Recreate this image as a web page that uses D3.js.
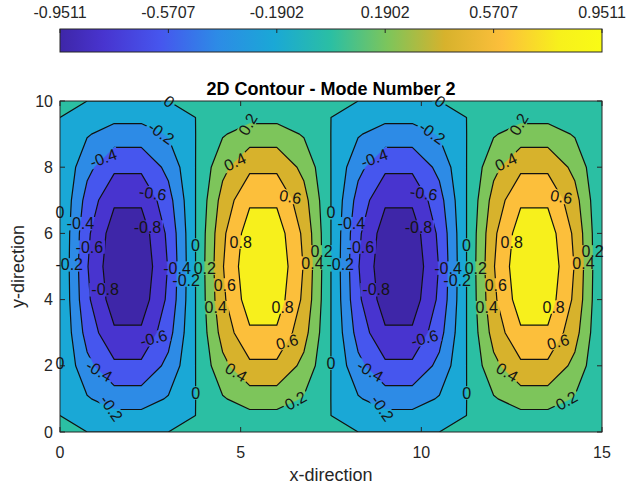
<!DOCTYPE html>
<html>
<head>
<meta charset="utf-8">
<script src="https://cdn.jsdelivr.net/npm/d3@7"></script>
<style>
  html, body { margin: 0; padding: 0; background: #ffffff; }
  svg { display: block; font-family: "Liberation Sans", Arial, Helvetica, sans-serif; }
</style>
</head>
<body>
<svg id="chart" width="626" height="497"></svg>
<script>
// ---- grid of the mode shape ----
const xGrid = [0, 0.75, 1.5, 2.25, 3, 3.75, 4.5, 5.25, 6, 6.75, 7.5, 8.25, 9, 9.75, 10.5, 11.25, 12, 12.75, 13.5, 14.25, 15];
const yGrid = [0, 1, 2, 3, 4, 5, 6, 7, 8, 9, 10];

// displacement, one row per yGrid entry (y = 0 first)
const zRows = [
  [0.001, 0, 0, 0, 0, 0.001, 0, 0, 0, 0, 0.001, 0, 0, 0, 0, 0.001, 0, 0, 0, 0, 0],
  [-0.001, -0.1816, -0.2939, -0.2939, -0.1816, -0.001, 0.1816, 0.2939, 0.2939, 0.1816, -0.001, -0.1816, -0.2939, -0.2939, -0.1816, -0.001, 0.1816, 0.2939, 0.2939, 0.1816, 0],
  [-0.001, -0.3455, -0.5590, -0.5590, -0.3455, -0.001, 0.3455, 0.5590, 0.5590, 0.3455, -0.001, -0.3455, -0.5590, -0.5590, -0.3455, -0.001, 0.3455, 0.5590, 0.5590, 0.3455, 0],
  [-0.001, -0.4755, -0.7694, -0.7694, -0.4755, -0.001, 0.4755, 0.7694, 0.7694, 0.4755, -0.001, -0.4755, -0.7694, -0.7694, -0.4755, -0.001, 0.4755, 0.7694, 0.7694, 0.4755, 0],
  [-0.001, -0.5590, -0.9045, -0.9045, -0.5590, -0.001, 0.5590, 0.9045, 0.9045, 0.5590, -0.001, -0.5590, -0.9045, -0.9045, -0.5590, -0.001, 0.5590, 0.9045, 0.9045, 0.5590, 0],
  [-0.001, -0.5878, -0.9511, -0.9511, -0.5878, -0.001, 0.5878, 0.9511, 0.9511, 0.5878, -0.001, -0.5878, -0.9511, -0.9511, -0.5878, -0.001, 0.5878, 0.9511, 0.9511, 0.5878, 0],
  [-0.001, -0.5590, -0.9045, -0.9045, -0.5590, -0.001, 0.5590, 0.9045, 0.9045, 0.5590, -0.001, -0.5590, -0.9045, -0.9045, -0.5590, -0.001, 0.5590, 0.9045, 0.9045, 0.5590, 0],
  [-0.001, -0.4755, -0.7694, -0.7694, -0.4755, -0.001, 0.4755, 0.7694, 0.7694, 0.4755, -0.001, -0.4755, -0.7694, -0.7694, -0.4755, -0.001, 0.4755, 0.7694, 0.7694, 0.4755, 0],
  [-0.001, -0.3455, -0.5590, -0.5590, -0.3455, -0.001, 0.3455, 0.5590, 0.5590, 0.3455, -0.001, -0.3455, -0.5590, -0.5590, -0.3455, -0.001, 0.3455, 0.5590, 0.5590, 0.3455, 0],
  [-0.001, -0.1816, -0.2939, -0.2939, -0.1816, -0.001, 0.1816, 0.2939, 0.2939, 0.1816, -0.001, -0.1816, -0.2939, -0.2939, -0.1816, -0.001, 0.1816, 0.2939, 0.2939, 0.1816, 0],
  [0.001, 0, 0, 0, 0, 0.001, 0, 0, 0, 0, 0.001, 0, 0, 0, 0, 0.001, 0, 0, 0, 0, 0]
];

const levels = [-0.8, -0.6, -0.4, -0.2, 0, 0.2, 0.4, 0.6, 0.8];
const colorbarTicks = [-0.9511, -0.5707, -0.1902, 0.1902, 0.5707, 0.9511];
const xTicks = [0, 5, 10, 15];
const yTicks = [0, 2, 4, 6, 8, 10];

// parula-like colour map (positions normalised to the colour limits)
const cmapPos = [0, 0.08, 0.185, 0.29, 0.395, 0.5, 0.605, 0.71, 0.815, 0.92, 1];
const cmapColors = ["#3e26a8", "#4834cf", "#4656ee", "#2d8be6", "#1aa8d6", "#2bbfa3",
                    "#7dc55b", "#d7b22c", "#fcbf3b", "#f7f01c", "#f9fb15"];

// inline contour labels: [level, x, y, rotation in degrees]
const contourLabels = [
  [0, 2.99, 9.94, 35], [-0.2, 2.77, 8.97, 35], [-0.4, 1.16, 8.31, -20], [-0.6, 2.58, 7.22, 8],
  [-0.8, 2.41, 6.19, 0], [0, 0.0, 6.62, 0], [-0.4, 0.42, 6.31, 0], [-0.6, 0.78, 5.59, 0],
  [-0.2, 0.19, 5.05, 0], [0, 3.74, 5.65, 0], [-0.4, 3.27, 4.95, 0], [-0.2, 3.60, 4.59, 0],
  [-0.8, 1.19, 4.29, 0], [-0.6, 2.58, 2.84, -15], [0, 0.0, 2.08, 0], [-0.4, 1.05, 1.81, 30],
  [0, 3.74, 1.18, 0], [-0.2, 1.44, 0.76, 55],
  [0.2, 5.21, 9.27, -60], [0.4, 4.79, 8.22, -25], [0.6, 6.37, 7.10, 10], [0.8, 4.99, 5.74, 0],
  [0.2, 3.91, 4.95, 0], [0.6, 4.52, 4.44, 0], [0.4, 4.24, 3.75, 0], [0.8, 6.15, 3.78, 0],
  [0.6, 6.29, 2.72, -15], [0.4, 4.85, 1.78, 30], [0.2, 6.51, 0.97, -30], [0.2, 7.12, 5.44, 0],
  [0.4, 6.87, 5.10, 0],
  [0, 10.49, 9.94, 35], [-0.2, 10.27, 8.97, 35], [-0.4, 8.66, 8.31, -20], [-0.6, 10.08, 7.22, 8],
  [-0.8, 9.91, 6.19, 0], [0, 7.50, 6.62, 0], [-0.4, 7.92, 6.31, 0], [-0.6, 8.28, 5.59, 0],
  [-0.2, 7.69, 5.05, 0], [0, 11.24, 5.65, 0], [-0.4, 10.77, 4.95, 0], [-0.2, 11.10, 4.59, 0],
  [-0.8, 8.69, 4.29, 0], [-0.6, 10.08, 2.84, -15], [0, 7.50, 2.08, 0], [-0.4, 8.55, 1.81, 30],
  [0, 11.24, 1.18, 0], [-0.2, 8.94, 0.76, 55],
  [0.2, 12.71, 9.27, -60], [0.4, 12.29, 8.22, -25], [0.6, 13.87, 7.10, 10], [0.8, 12.49, 5.74, 0],
  [0.2, 11.41, 4.95, 0], [0.6, 12.02, 4.44, 0], [0.4, 11.74, 3.75, 0], [0.8, 13.65, 3.78, 0],
  [0.6, 13.79, 2.72, -15], [0.4, 12.35, 1.78, 30], [0.2, 14.01, 0.97, -30], [0.2, 14.62, 5.44, 0],
  [0.4, 14.37, 5.10, 0]
];

// ---- layout ----
const W = 626, H = 497;
const plot = { left: 60, top: 101, right: 602, bottom: 432 };
const axisColor = "#262626";
const tickFont = 16, labelFont = 18, titleFont = 18, contourFont = 16;

const svg = d3.select("#chart");
const defs = svg.append("defs");

const x = d3.scaleLinear().domain(d3.extent(xGrid)).range([plot.left, plot.right]);
const y = d3.scaleLinear().domain(d3.extent(yGrid)).range([plot.bottom, plot.top]);

const nx = xGrid.length, ny = yGrid.length;
const values = zRows.flat();
const zMin = d3.min(values), zMax = d3.max(values);

const cmap = d3.scaleLinear()
  .domain(cmapPos.map(p => zMin + p * (zMax - zMin)))
  .range(cmapColors)
  .interpolate(d3.interpolateRgb)
  .clamp(true);

// contour polygons (value >= level)
const polys = d3.contours().size([nx, ny]).thresholds(levels)(values);
const gx = d3.scaleLinear().domain([0.5, nx - 0.5]).range(d3.extent(xGrid));
const gy = d3.scaleLinear().domain([0.5, ny - 0.5]).range(d3.extent(yGrid));
const toPx = (cx, cy) => [x(gx(cx)), y(gy(cy))];
const path = d3.geoPath(d3.geoTransform({
  point(cx, cy) { const p = toPx(cx, cy); this.stream.point(p[0], p[1]); }
}));

defs.append("clipPath").attr("id", "plotClip")
  .append("rect")
  .attr("x", plot.left).attr("y", plot.top)
  .attr("width", plot.right - plot.left).attr("height", plot.bottom - plot.top);

// ---- filled bands ----
const fillG = svg.append("g").attr("clip-path", "url(#plotClip)");
fillG.append("rect")
  .attr("x", plot.left).attr("y", plot.top)
  .attr("width", plot.right - plot.left).attr("height", plot.bottom - plot.top)
  .attr("fill", cmap(zMin));
fillG.selectAll("path.band").data(polys).join("path")
  .attr("class", "band")
  .attr("d", path)
  .attr("fill", d => cmap(d.value))
  .attr("stroke", d => cmap(d.value))
  .attr("stroke-width", 0.5);

// ---- label placement (snap onto the level's line) ----
const inside = p => p[0] >= plot.left - 0.5 && p[0] <= plot.right + 0.5 &&
                    p[1] >= plot.top - 0.5 && p[1] <= plot.bottom + 0.5;
function segmentsFor(level) {
  const poly = polys.find(p => Math.abs(p.value - level) < 1e-9);
  const segs = [];
  poly.coordinates.forEach(polygon => polygon.forEach(ring => {
    const pts = ring.map(c => toPx(c[0], c[1]));
    for (let i = 1; i < pts.length; i++) {
      if (inside(pts[i - 1]) && inside(pts[i])) segs.push([pts[i - 1], pts[i]]);
    }
  }));
  return segs;
}
function snap(level, p) {
  let best = null, bestD = 9;
  segmentsFor(level).forEach(([a, b]) => {
    const dx = b[0] - a[0], dy = b[1] - a[1];
    const L = dx * dx + dy * dy;
    let t = L > 0 ? ((p[0] - a[0]) * dx + (p[1] - a[1]) * dy) / L : 0;
    t = Math.max(0, Math.min(1, t));
    const q = [a[0] + t * dx, a[1] + t * dy];
    const d = Math.hypot(q[0] - p[0], q[1] - p[1]);
    if (d < bestD) { bestD = d; best = q; }
  });
  return best || p;
}

const labelG = svg.append("g")
  .attr("font-size", contourFont)
  .attr("fill", "#141414");
const placed = contourLabels.map(([level, lx, ly, ang]) => {
  const p = snap(level, [x(lx), y(ly)]);
  const t = labelG.append("text")
    .attr("text-anchor", "middle")
    .attr("dy", "0.35em")
    .attr("transform", `translate(${p[0].toFixed(2)},${p[1].toFixed(2)}) rotate(${ang})`)
    .text(String(level));
  return { p, ang, w: t.node().getComputedTextLength() };
});

// gaps in the lines under the labels
const mask = defs.append("mask").attr("id", "labelGaps")
  .attr("maskUnits", "userSpaceOnUse")
  .attr("x", 0).attr("y", 0).attr("width", W).attr("height", H);
mask.append("rect").attr("x", 0).attr("y", 0).attr("width", W).attr("height", H).attr("fill", "#fff");
placed.forEach(({ p, ang, w }) => {
  mask.append("rect")
    .attr("x", -w / 2 - 2).attr("y", -contourFont * 0.42)
    .attr("width", w + 4).attr("height", contourFont * 0.84)
    .attr("transform", `translate(${p[0]},${p[1]}) rotate(${ang})`)
    .attr("fill", "#000");
});

// ---- contour lines ----
const lineG = svg.insert("g", () => labelG.node()).attr("clip-path", "url(#plotClip)")
  .append("g").attr("mask", "url(#labelGaps)");
lineG.selectAll("path").data(polys).join("path")
  .attr("d", path)
  .attr("fill", "none")
  .attr("stroke", "#111")
  .attr("stroke-width", 1.2)
  .attr("stroke-linejoin", "round");

// ---- axes frame and ticks ----
const axG = svg.insert("g", () => labelG.node());
axG.append("rect")
  .attr("x", plot.left).attr("y", plot.top)
  .attr("width", plot.right - plot.left).attr("height", plot.bottom - plot.top)
  .attr("fill", "none").attr("stroke", axisColor).attr("stroke-width", 1);
const tickLen = 5;
xTicks.forEach(v => {
  axG.append("line").attr("x1", x(v)).attr("x2", x(v)).attr("y1", plot.bottom).attr("y2", plot.bottom - tickLen)
    .attr("stroke", axisColor);
  axG.append("line").attr("x1", x(v)).attr("x2", x(v)).attr("y1", plot.top).attr("y2", plot.top + tickLen)
    .attr("stroke", axisColor);
});
yTicks.forEach(v => {
  axG.append("line").attr("x1", plot.left).attr("x2", plot.left + tickLen).attr("y1", y(v)).attr("y2", y(v))
    .attr("stroke", axisColor);
  axG.append("line").attr("x1", plot.right).attr("x2", plot.right - tickLen).attr("y1", y(v)).attr("y2", y(v))
    .attr("stroke", axisColor);
});

const textG = svg.append("g").attr("fill", axisColor);
textG.selectAll("text.xt").data(xTicks).join("text")
  .attr("class", "xt")
  .attr("x", d => x(d)).attr("y", plot.bottom + 26)
  .attr("text-anchor", "middle").attr("font-size", tickFont)
  .text(d => d);
textG.selectAll("text.yt").data(yTicks).join("text")
  .attr("class", "yt")
  .attr("x", plot.left - 7).attr("y", d => y(d)).attr("dy", "0.35em")
  .attr("text-anchor", "end").attr("font-size", tickFont)
  .text(d => d);
textG.append("text")
  .attr("x", (plot.left + plot.right) / 2).attr("y", 481)
  .attr("text-anchor", "middle").attr("font-size", labelFont)
  .text("x-direction");
textG.append("text")
  .attr("transform", `translate(24,${(plot.top + plot.bottom) / 2}) rotate(-90)`)
  .attr("text-anchor", "middle").attr("font-size", labelFont)
  .text("y-direction");
svg.append("text")
  .attr("x", (plot.left + plot.right) / 2).attr("y", 94.5)
  .attr("text-anchor", "middle").attr("font-size", titleFont).attr("font-weight", "bold")
  .attr("fill", "#000")
  .text("2D Contour - Mode Number 2");

// ---- colour bar ----
const cb = { top: 29, height: 23 };
const cbX = d3.scaleLinear().domain([zMin, zMax]).range([plot.left, plot.right]);
const grad = defs.append("linearGradient").attr("id", "cbGrad")
  .attr("x1", "0%").attr("x2", "100%").attr("y1", "0%").attr("y2", "0%");
cmapPos.forEach((p, i) => grad.append("stop").attr("offset", p).attr("stop-color", cmapColors[i]));
svg.append("rect")
  .attr("x", plot.left).attr("y", cb.top)
  .attr("width", plot.right - plot.left).attr("height", cb.height)
  .attr("fill", "url(#cbGrad)")
  .attr("stroke", axisColor).attr("stroke-width", 1);
svg.selectAll("line.cbt").data(colorbarTicks).join("line")
  .attr("class", "cbt")
  .attr("x1", d => cbX(d)).attr("x2", d => cbX(d))
  .attr("y1", cb.top).attr("y2", cb.top + 4)
  .attr("stroke", axisColor);
svg.selectAll("text.cbl").data(colorbarTicks).join("text")
  .attr("class", "cbl")
  .attr("x", d => cbX(d)).attr("y", cb.top - 11)
  .attr("text-anchor", "middle").attr("font-size", tickFont).attr("fill", axisColor)
  .text(d => d.toFixed(4));
</script>
</body>
</html>
